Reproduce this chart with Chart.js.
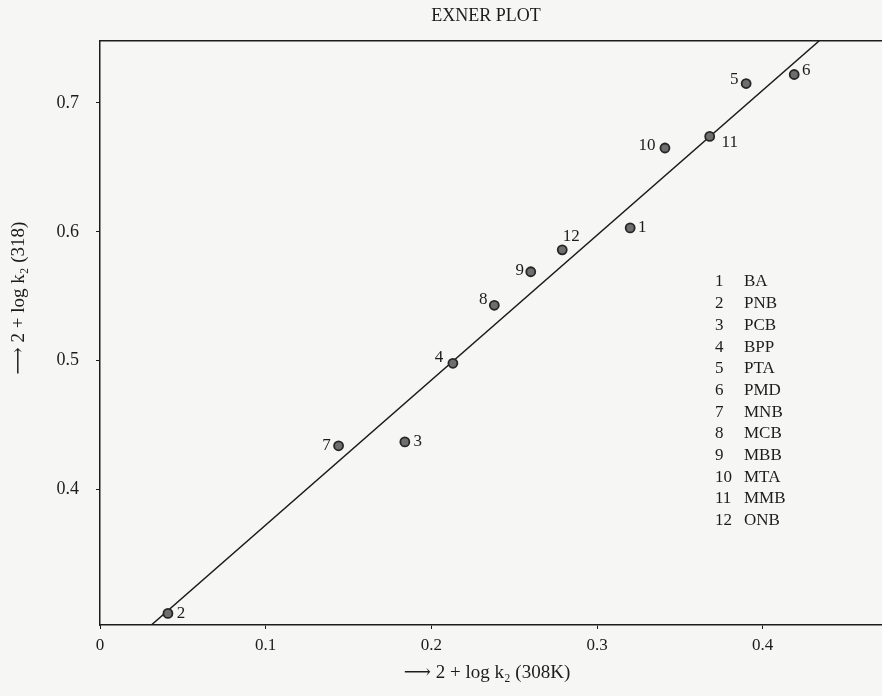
<!DOCTYPE html>
<html>
<head>
<meta charset="utf-8">
<title>Exner plot</title>
<script src="https://cdn.jsdelivr.net/npm/chart.js@4.4.1/dist/chart.umd.min.js"></script>
<style>
  html, body { margin: 0; padding: 0; background: #f6f6f4; }
  #wrap { width: 882px; height: 696px; position: relative; }
</style>
</head>
<body>
<div id="wrap"><canvas id="chartExner"></canvas></div>
<script>
// Exner plot: 2 + log k2 at 318 K against 2 + log k2 at 308 K

const SERIF = "'Liberation Serif', 'DejaVu Serif', serif";
const INK = "#1c1c1c";

// compound numbers and names (legend)
const pointIds = [1, 2, 3, 4, 5, 6, 7, 8, 9, 10, 11, 12];
const compounds = ["BA", "PNB", "PCB", "BPP", "PTA", "PMD", "MNB", "MCB", "MBB", "MTA", "MMB", "ONB"];

// 2 + log k2 (308K) and 2 + log k2 (318)
const logK308 = [0.320, 0.041, 0.184, 0.213, 0.390, 0.419, 0.144, 0.238, 0.260, 0.341, 0.368, 0.279];
const logK318 = [0.603, 0.304, 0.437, 0.498, 0.715, 0.722, 0.434, 0.543, 0.569, 0.665, 0.674, 0.586];

// fitted straight line, end points
const fitX = [0.031, 0.434];
const fitY = [0.295, 0.748];

// axis ticks
const xTicks = [0, 0.1, 0.2, 0.3, 0.4];
const yTicks = [0.4, 0.5, 0.6, 0.7];

// where each number sits next to its point (dx, dy in px)
const labelOffset = {
  1: [12, 0], 2: [13, 0], 3: [13, 0], 4: [-14, -6], 5: [-12, -4], 6: [12, -4],
  7: [-12, 0], 8: [-11, -6], 9: [-11, -1], 10: [-18, -2], 11: [20, 6], 12: [9, -13],
};

const paperPlugin = {
  id: "paper",
  beforeDraw(chart) {
    const { ctx, width, height } = chart;
    ctx.save();
    ctx.fillStyle = "#f6f6f4";
    ctx.fillRect(0, 0, width, height);
    ctx.restore();
  },
};

const textPlugin = {
  id: "texts",
  afterDraw(chart) {
    const { ctx } = chart;
    const xs = chart.scales.x;
    const ys = chart.scales.y;
    ctx.save();
    ctx.fillStyle = INK;
    ctx.textBaseline = "middle";

    // title
    ctx.font = "18px " + SERIF;
    ctx.textAlign = "center";
    ctx.fillText("EXNER PLOT", 486, 16);

    // axis titles
    ctx.font = "19px " + SERIF;
    ctx.fillText("\u27F6 2 + log k\u2082 (308K)", 487, 673);
    ctx.save();
    ctx.translate(19, 298);
    ctx.rotate(-Math.PI / 2);
    ctx.fillText("\u27F6 2 + log k\u2082 (318)", 0, 0);
    ctx.restore();

    // point numbers
    ctx.font = "17px " + SERIF;
    pointIds.forEach((id, i) => {
      const [dx, dy] = labelOffset[id];
      const px = xs.getPixelForValue(logK308[i]);
      const py = ys.getPixelForValue(logK318[i]);
      ctx.fillText(String(id), px + dx, py + dy);
    });

    // legend
    ctx.font = "17px " + SERIF;
    ctx.textAlign = "left";
    pointIds.forEach((id, i) => {
      const y = 282 + i * 21.7;
      ctx.fillText(String(id), 715, y);
      ctx.fillText(compounds[i], 744, y);
    });
    ctx.restore();
  },
};

const noSidePad = (s) => { s.paddingLeft = 0; s.paddingRight = 0; };

new Chart(document.getElementById("chartExner"), {
  data: {
    datasets: [
      {
        type: "scatter",
        data: logK308.map((x, i) => ({ x, y: logK318[i] })),
        backgroundColor: "#6e6e6e",
        borderColor: "#262626",
        borderWidth: 1.8,
        pointRadius: 4.5,
        order: 1,
      },
      {
        type: "line",
        data: fitX.map((x, i) => ({ x, y: fitY[i] })),
        borderColor: INK,
        borderWidth: 1.5,
        pointRadius: 0,
        fill: false,
        order: 2,
      },
    ],
  },
  options: {
    responsive: true,
    maintainAspectRatio: false,
    animation: false,
    layout: { padding: 0, autoPadding: false },
    plugins: { legend: { display: false }, tooltip: { enabled: false } },
    scales: {
      x: {
        type: "linear",
        min: 0,
        max: 0.472,
        afterBuildTicks: (s) => { s.ticks = xTicks.map((v) => ({ value: v })); },
        afterFit: (s) => { s.height = 71; noSidePad(s); },
        ticks: {
          color: INK,
          font: { family: SERIF, size: 17 },
          padding: 6,
          maxRotation: 0,
          callback: (v) => String(v),
        },
        grid: { drawOnChartArea: false, tickLength: 4, color: INK },
        border: { color: INK, width: 1.5 },
      },
      xTop: {
        type: "linear",
        position: "top",
        min: 0,
        max: 0.472,
        afterFit: (s) => { s.height = 41; noSidePad(s); },
        ticks: { display: false },
        grid: { display: false },
        border: { color: INK, width: 1.5 },
      },
      y: {
        type: "linear",
        min: 0.295,
        max: 0.748,
        afterBuildTicks: (s) => { s.ticks = yTicks.map((v) => ({ value: v })); },
        afterFit: (s) => { s.width = 100; },
        ticks: {
          color: INK,
          font: { family: SERIF, size: 18 },
          padding: 17,
          callback: (v) => String(v),
        },
        grid: { drawOnChartArea: false, tickLength: 4, color: INK },
        border: { color: INK, width: 1.5 },
      },
    },
  },
  plugins: [paperPlugin, textPlugin],
});
</script>
</body>
</html>
